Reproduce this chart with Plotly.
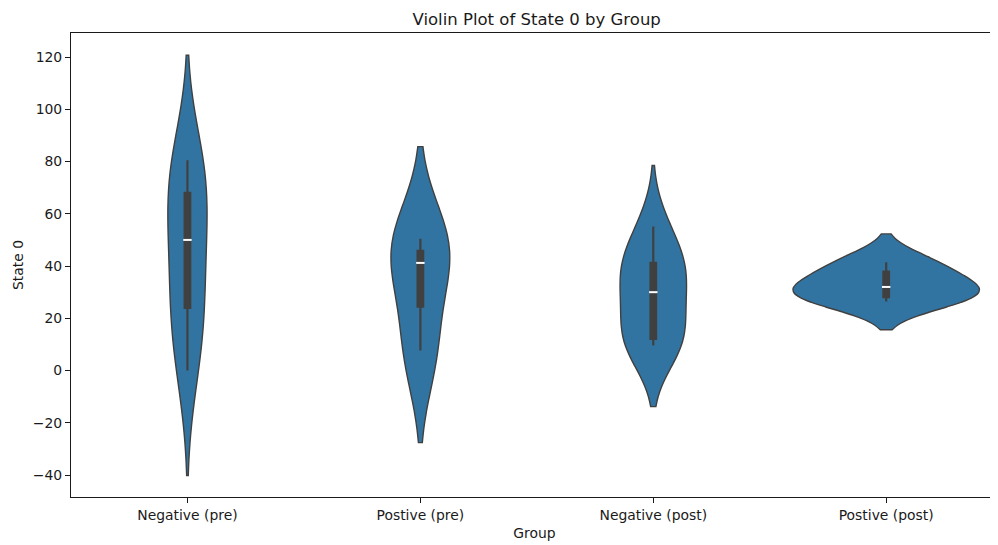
import numpy as np
import plotly.graph_objects as go

# ---- data ----
groups = ["Negative (pre)", "Postive (pre)", "Negative (post)", "Postive (post)"]
neg_pre = [0.0, 20.0, 28.0, 50.0, 60.0, 76.0, 80.5]
pos_pre = [7.7, 41.2, 50.4]
neg_post = [9.6, 10.0, 14.2, 26.0, 34.0, 40.0, 42.4, 55.1]
pos_post = [26.4, 29.8, 34.2, 41.5]
bandwidths = [20.1, 17.65, 11.7, 5.4]
y_ticks = [-40, -20, 0, 20, 40, 60, 80, 100, 120]

series = [neg_pre, pos_pre, neg_post, pos_post]

FILL = "#3274a1"
EDGE = "#404040"
FONT = "DejaVu Sans"
TXT = "#1a1a1a"
MAX_WIDTH = 0.8
BOX_FRAC = 0.03  # box width as a fraction of the full (0.8) violin width


def kde_peak(v, bw):
    grid = np.linspace(v.min() - 2 * bw, v.max() + 2 * bw, 512)
    dens = np.exp(-0.5 * ((grid[:, None] - v[None, :]) / bw) ** 2).sum(axis=1)
    dens /= len(v) * bw * np.sqrt(2 * np.pi)
    return dens.max()


arrs = [np.asarray(s, dtype=float) for s in series]
peaks = np.array([kde_peak(v, b) for v, b in zip(arrs, bandwidths)])
widths = MAX_WIDTH * peaks / peaks.max()  # seaborn "area" normalisation

fig = go.Figure()
for name, v, bw, w in zip(groups, arrs, bandwidths, widths):
    fig.add_trace(go.Violin(
        x=[name] * len(v), y=v,
        bandwidth=bw, spanmode="soft",
        quartilemethod="inclusive",
        width=float(w), scalegroup=name, scalemode="width",
        fillcolor=FILL, opacity=1,
        line=dict(color=EDGE, width=1.4),
        points=False,
        box=dict(visible=True, width=float(min(1.0, BOX_FRAC * MAX_WIDTH / w)),
                 fillcolor=EDGE, line=dict(color=EDGE, width=2.2)),
        meanline=dict(visible=False),
        showlegend=False, hoverinfo="skip",
    ))

for name, v in zip(groups, arrs):
    fig.add_trace(go.Scatter(
        x=[name], y=[float(np.median(v))], mode="markers",
        marker=dict(symbol="line-ew", size=6, color="white",
                    line=dict(color="white", width=2)),
        showlegend=False, hoverinfo="skip",
    ))

# the page body adds an 8px margin, so the figure is 8px smaller than the window
fig.update_layout(
    template="none",
    width=990, height=537,
    margin=dict(l=63, r=0, t=25, b=48, autoexpand=False),
    paper_bgcolor="white", plot_bgcolor="white",
    violinmode="overlay",
    font=dict(family=FONT, size=13.9, color=TXT),
    title=dict(text="Violin Plot of State 0 by Group", x=0.534, xanchor="center",
               y=1 - 11 / 537, yanchor="middle", yref="container",
               font=dict(family=FONT, size=16.5, color=TXT)),
    hovermode=False,
)
fig.update_xaxes(
    automargin=False,
    categoryorder="array", categoryarray=groups,
    range=[-0.5, 3.48],
    showline=True, linecolor=TXT, linewidth=1.1, mirror=True,
    ticks="outside", ticklen=5, tickwidth=1.1, tickcolor=TXT,
    showgrid=False, zeroline=False,
    title=dict(text="Group", standoff=6, font=dict(size=13.9)),
)
fig.update_yaxes(
    automargin=False,
    range=[-48.4, 129.2],
    tickvals=y_ticks,
    showline=True, linecolor=TXT, linewidth=1.1, mirror=True,
    ticks="outside", ticklen=5, tickwidth=1.1, tickcolor=TXT,
    showgrid=False, zeroline=False,
    title=dict(text="State 0", standoff=5, font=dict(size=13.9)),
)

fig.write_html("out.html")
